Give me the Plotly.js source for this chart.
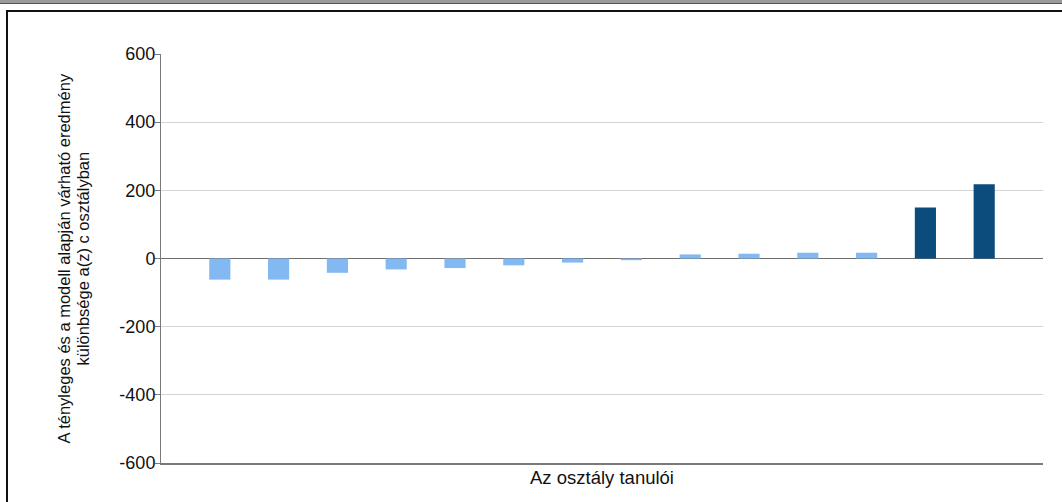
<!DOCTYPE html>
<html>
<head>
<meta charset="utf-8">
<script src="https://cdn.plot.ly/plotly-3.0.1.min.js"></script>
<style>
  html, body { margin: 0; padding: 0; background: #ffffff; }
  #wrap { position: relative; width: 1062px; height: 502px; overflow: hidden; }
  #chart { position: absolute; left: 0; top: 0; width: 1062px; height: 502px; }
  #topband { position: absolute; left: 0; top: 0; width: 1062px; height: 3px; background: #9a9a9a; border-bottom: 1px solid #555; pointer-events: none; z-index: 5; }
  #frame { position: absolute; left: 6px; top: 10px; width: 1070px; height: 520px; border-top: 2px solid #111; border-left: 2px solid #111; pointer-events: none; z-index: 5; }
</style>
</head>
<body>
<div id="wrap">
  <div id="chart"></div>
  <div id="topband"></div>
  <div id="frame"></div>
</div>
<script>
// Students of the class (positions 1..14) and their difference values
var students = [1, 2, 3, 4, 5, 6, 7, 8, 9, 10, 11, 12, 13, 14];
var differences = [-62, -62, -42, -32, -28, -20, -12, -5, 12, 14, 17, 17, 150, 218];
var groups = ['normal', 'normal', 'normal', 'normal', 'normal', 'normal', 'normal',
              'normal', 'normal', 'normal', 'normal', 'normal', 'kiemelt', 'kiemelt'];
var yTickValues = [-600, -400, -200, 0, 200, 400, 600];
var yTickLabels = ['-600', '-400', '-200', '0', '200', '400', '600'];
var yTitleLines = ['A tényleges és a modell alapján várható eredmény', 'különbsége a(z) c osztályban'];
var xTitle = 'Az osztály tanulói';

var colorMap = { normal: '#82b9f3', kiemelt: '#0b4c7c' };

var trace = {
  type: 'bar',
  x: students,
  y: differences,
  width: 0.36,
  marker: { color: groups.map(function (g) { return colorMap[g]; }), line: { width: 0 } },
  hoverinfo: 'x+y'
};

var font = 'Liberation Sans, Arial, sans-serif';

var layout = {
  width: 1062,
  height: 502,
  margin: { l: 161, r: 19, t: 54, b: 39 },
  paper_bgcolor: 'rgba(0,0,0,0)',
  plot_bgcolor: '#ffffff',
  showlegend: false,
  font: { family: font, color: '#111111' },
  xaxis: {
    range: [0, 15],
    showticklabels: false,
    ticks: '',
    showgrid: false,
    zeroline: false,
    showline: true,
    linecolor: '#7a7a7a',
    linewidth: 2,
    fixedrange: true,
    title: { text: xTitle, font: { family: font, size: 18.5, color: '#111111' }, standoff: 7 }
  },
  yaxis: {
    range: [-600, 600],
    tickmode: 'array',
    tickvals: yTickValues,
    ticktext: yTickLabels,
    ticks: 'outside',
    ticklen: 5,
    tickcolor: '#7a7a7a',
    tickwidth: 1,
    ticklabelstandoff: -4,
    tickfont: { family: font, size: 18, color: '#111111' },
    showgrid: true,
    gridcolor: '#d4d4d4',
    gridwidth: 1,
    zeroline: true,
    zerolinecolor: '#6e6e6e',
    zerolinewidth: 1.5,
    showline: true,
    linecolor: '#7a7a7a',
    linewidth: 1,
    fixedrange: true,
    automargin: false
  },
  annotations: [
    {
      xref: 'paper', yref: 'paper', x: 0, y: 0.5,
      xanchor: 'center', yanchor: 'middle', xshift: -98,
      textangle: -90, showarrow: false,
      text: yTitleLines[0],
      font: { family: font, size: 16.5, color: '#111111' }
    },
    {
      xref: 'paper', yref: 'paper', x: 0, y: 0.5,
      xanchor: 'center', yanchor: 'middle', xshift: -79,
      textangle: -90, showarrow: false,
      text: yTitleLines[1],
      font: { family: font, size: 16.5, color: '#111111' }
    }
  ],
  bargap: 0.6
};

Plotly.newPlot('chart', [trace], layout, { displayModeBar: false, staticPlot: true });
</script>
</body>
</html>
